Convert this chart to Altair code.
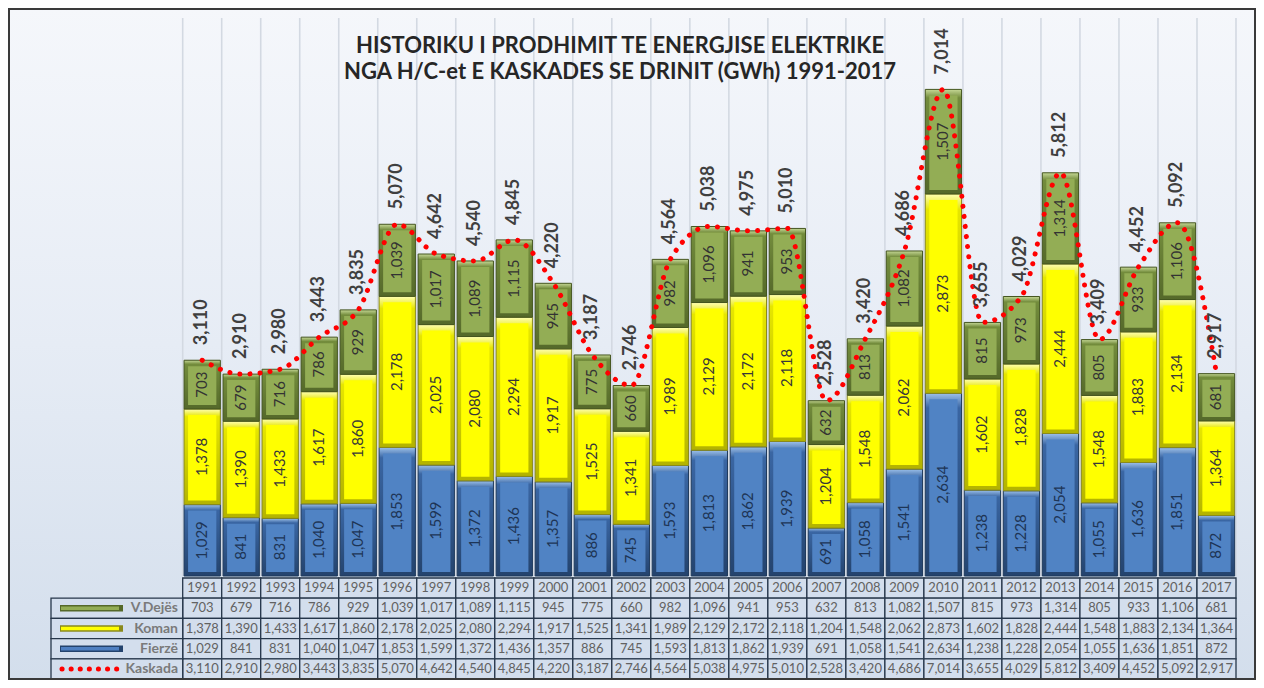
import altair as alt
import pandas as pd

# ---------------- data ----------------
years = [1991, 1992, 1993, 1994, 1995, 1996, 1997, 1998, 1999, 2000, 2001, 2002, 2003, 2004,
         2005, 2006, 2007, 2008, 2009, 2010, 2011, 2012, 2013, 2014, 2015, 2016, 2017]
fierze = [1029, 841, 831, 1040, 1047, 1853, 1599, 1372, 1436, 1357, 886, 745, 1593, 1813,
          1862, 1939, 691, 1058, 1541, 2634, 1238, 1228, 2054, 1055, 1636, 1851, 872]
koman = [1378, 1390, 1433, 1617, 1860, 2178, 2025, 2080, 2294, 1917, 1525, 1341, 1989, 2129,
         2172, 2118, 1204, 1548, 2062, 2873, 1602, 1828, 2444, 1548, 1883, 2134, 1364]
dejes = [703, 679, 716, 786, 929, 1039, 1017, 1089, 1115, 945, 775, 660, 982, 1096,
         941, 953, 632, 813, 1082, 1507, 815, 973, 1314, 805, 933, 1106, 681]
kaskada = [3110, 2910, 2980, 3443, 3835, 5070, 4642, 4540, 4845, 4220, 3187, 2746, 4564, 5038,
           4975, 5010, 2528, 3420, 4686, 7014, 3655, 4029, 5812, 3409, 4452, 5092, 2917]
series_names = ["V.Dejës", "Koman", "Fierzë", "Kaskada"]
title_lines = ["HISTORIKU I PRODHIMIT TE ENERGJISE ELEKTRIKE",
               "NGA H/C-et E KASKADES SE DRINIT (GWh) 1991-2017"]

# ---------------- tables built from the arrays ----------------
stack_order = [("Fierzë", fierze), ("Koman", koman), ("V.Dejës", dejes)]
seg_rows = []
for i in range(len(years)):
    s = 0
    for name, vals in stack_order:
        v = vals[i]
        seg_rows.append({"idx": i, "series": name, "start": s, "end": s + v, "value": v})
        s += v
seg = pd.DataFrame(seg_rows)
tot = pd.DataFrame({"idx": list(range(len(years))), "year": years, "total": kaskada})

table_series = [("V.Dejës", dejes), ("Koman", koman), ("Fierzë", fierze), ("Kaskada", kaskada)]
cell_rows = []
for i, yr in enumerate(years):
    cell_rows.append({"idx": i, "row": 0, "label": str(yr)})
for r, (name, vals) in enumerate(table_series, start=1):
    for i, v in enumerate(vals):
        cell_rows.append({"idx": i, "row": r, "label": f"{v:,}"})
cells = pd.DataFrame(cell_rows)
legend_rows = pd.DataFrame({"row": [1, 2, 3, 4], "series": series_names})
grid = pd.DataFrame({"k": list(range(len(years) + 1))})
one = pd.DataFrame({"a": [0]})

# ---------------- layout ----------------
W, H = 1248, 672
FONT = "Lato"
XS = alt.Scale(domain=[0, len(years)], range=[174.7, 1228], nice=False, zero=False)
YB = alt.Scale(domain=[0, 8000], range=[568, 13], nice=False, zero=True)
YR = alt.Scale(domain=[0, 5], range=[570, 671], nice=False, zero=False)

STYLE = {
    "Fierzë": dict(main="#5083c4", light="#9cc0ea", edge="#3a66a3", dark="#24436d",
                   stroke="#1f3a5c", text="#1e3556"),
    "Koman": dict(main="#ffff00", light="#ffffb3", edge="#e6e600", dark="#b3b300",
                  stroke="#8a8a1c", text="#383838"),
    "V.Dejës": dict(main="#93ad55", light="#c6d896", edge="#738c3c", dark="#55692a",
                    stroke="#44551f", text="#333333"),
}

layers = []

# background gradient
layers.append(
    alt.Chart(one).mark_rect(
        fill=alt.Gradient(gradient="linear", x1=0, x2=0, y1=0, y2=1,
                          stops=[alt.GradientStop(color="#f5f7fb", offset=0),
                                 alt.GradientStop(color="#e6ecf5", offset=0.5),
                                 alt.GradientStop(color="#d3deec", offset=1)])
    ).encode(x=alt.value(0), x2=alt.value(W), y=alt.value(0), y2=alt.value(H))
)

# vertical gridlines
layers.append(
    alt.Chart(grid).mark_rule(color="#d3d9e2", strokeWidth=1.6).encode(
        x=alt.X("k:Q", scale=XS, axis=None), y=alt.value(10), y2=alt.value(568))
)

# bars (bevelled)
for name, _ in stack_order:
    st = STYLE[name]
    base = alt.Chart(seg).transform_filter(
        alt.FieldEqualPredicate(field="series", equal=name)
    ).transform_calculate(
        x0="datum.idx + 0.035", x1="datum.idx + 0.965", xm="datum.idx + 0.5",
        ym="(datum.start + datum.end) / 2"
    )
    outer = base.mark_rect(
        fill=alt.Gradient(gradient="linear", x1=0, x2=0, y1=0, y2=1,
                          stops=[alt.GradientStop(color=st["light"], offset=0),
                                 alt.GradientStop(color=st["edge"], offset=0.08),
                                 alt.GradientStop(color=st["dark"], offset=1)]),
        stroke=st["stroke"], strokeWidth=1
    ).encode(
        x=alt.X("x0:Q", scale=XS, axis=None), x2="x1:Q",
        y=alt.Y("end:Q", scale=YB, axis=None), y2="start:Q")
    inner = base.mark_rect(
        fill=st["main"], xOffset=4, x2Offset=-4, yOffset=6, y2Offset=-4
    ).encode(
        x=alt.X("x0:Q", scale=XS, axis=None), x2="x1:Q",
        y=alt.Y("end:Q", scale=YB, axis=None), y2="start:Q")
    label = base.mark_text(
        angle=270, align="center", baseline="middle", font=FONT, fontSize=15,
        color=st["text"]
    ).encode(
        x=alt.X("xm:Q", scale=XS, axis=None),
        y=alt.Y("ym:Q", scale=YB, axis=None),
        text=alt.Text("value:Q", format=","))
    layers += [outer, inner, label]

# Kaskada dotted smooth line
tot_base = alt.Chart(tot).transform_calculate(xm="datum.idx + 0.5")
layers.append(
    tot_base.mark_line(interpolate="monotone", color="#ff0000", strokeWidth=5,
                       strokeDash=[0.1, 10], strokeCap="round").encode(
        x=alt.X("xm:Q", scale=XS, axis=None),
        y=alt.Y("total:Q", scale=YB, axis=None))
)
# total labels
layers.append(
    tot_base.mark_text(angle=270, align="left", baseline="middle", dx=15, font=FONT,
                       fontSize=18, fontWeight="bold", color="#3f3f3f").encode(
        x=alt.X("xm:Q", scale=XS, axis=None),
        y=alt.Y("total:Q", scale=YB, axis=None),
        text=alt.Text("total:Q", format=","))
)

# title
for k, line in enumerate(title_lines):
    layers.append(
        alt.Chart(pd.DataFrame({"t": [line]})).mark_text(
            font=FONT, fontSize=22, fontWeight="bold", color="#262626",
            align="center", baseline="middle"
        ).encode(x=alt.value(612), y=alt.value(38 + 26 * k), text="t:N")
    )

# data table cells
cell_base = alt.Chart(cells).transform_calculate(
    x1="datum.idx + 1", r1="datum.row + 1", xm="datum.idx + 0.5", rm="datum.row + 0.5")
layers.append(
    cell_base.mark_rect(fill="#d3deed", stroke="#26364a", strokeWidth=1.3).encode(
        x=alt.X("idx:Q", scale=XS, axis=None), x2="x1:Q",
        y=alt.Y("row:Q", scale=YR, axis=None), y2="r1:Q")
)
layers.append(
    cell_base.mark_text(font=FONT, fontSize=13, color="#626262", align="center",
                        baseline="middle").encode(
        x=alt.X("xm:Q", scale=XS, axis=None),
        y=alt.Y("rm:Q", scale=YR, axis=None),
        text="label:N")
)

# legend column of the table
leg_base = alt.Chart(legend_rows).transform_calculate(r1="datum.row + 1", rm="datum.row + 0.5")
layers.append(
    leg_base.mark_rect(fill="#d3deed", stroke="#26364a", strokeWidth=1.3).encode(
        x=alt.value(43), x2=alt.value(174.7),
        y=alt.Y("row:Q", scale=YR, axis=None), y2="r1:Q")
)
layers.append(
    leg_base.mark_text(font=FONT, fontSize=14, fontWeight="bold", color="#7a7a7a",
                       align="right", baseline="middle").encode(
        x=alt.value(170), y=alt.Y("rm:Q", scale=YR, axis=None), text="series:N")
)
sym_series = series_names[:3]
layers.append(
    leg_base.transform_filter(alt.FieldOneOfPredicate(field="series", oneOf=sym_series))
    .mark_rule(strokeWidth=6.5).encode(
        x=alt.value(52), x2=alt.value(115),
        y=alt.Y("rm:Q", scale=YR, axis=None),
        color=alt.Color("series:N", legend=None,
                        scale=alt.Scale(domain=sym_series,
                                        range=[STYLE["V.Dejës"]["dark"], "#8a8a1c",
                                               STYLE["Fierzë"]["dark"]])))
)
layers.append(
    leg_base.transform_filter(alt.FieldOneOfPredicate(field="series", oneOf=sym_series))
    .mark_rule(strokeWidth=3.5).encode(
        x=alt.value(53), x2=alt.value(111),
        y=alt.Y("rm:Q", scale=YR, axis=None),
        color=alt.Color("series:N", legend=None,
                        scale=alt.Scale(domain=sym_series,
                                        range=[STYLE["V.Dejës"]["main"], "#ffff00",
                                               "#4f80c2"])))
)
layers.append(
    leg_base.transform_filter(alt.FieldEqualPredicate(field="series", equal="Kaskada"))
    .mark_rule(strokeWidth=5, color="#ff0000", strokeDash=[0.1, 9], strokeCap="round").encode(
        x=alt.value(54), x2=alt.value(116),
        y=alt.Y("rm:Q", scale=YR, axis=None))
)

# outer frame
layers.append(
    alt.Chart(one).mark_rect(fillOpacity=0, stroke="#3a3a3a", strokeWidth=2).encode(
        x=alt.value(1), x2=alt.value(W - 1), y=alt.value(1), y2=alt.value(H - 1))
)

chart = alt.layer(*layers).resolve_scale(y="independent", color="independent").properties(
    width=W, height=H, autosize="none", padding=0, background="#e8eef6"
).configure_view(strokeWidth=0)

chart.save("out.html", embed_options={"renderer": "svg", "actions": False})
